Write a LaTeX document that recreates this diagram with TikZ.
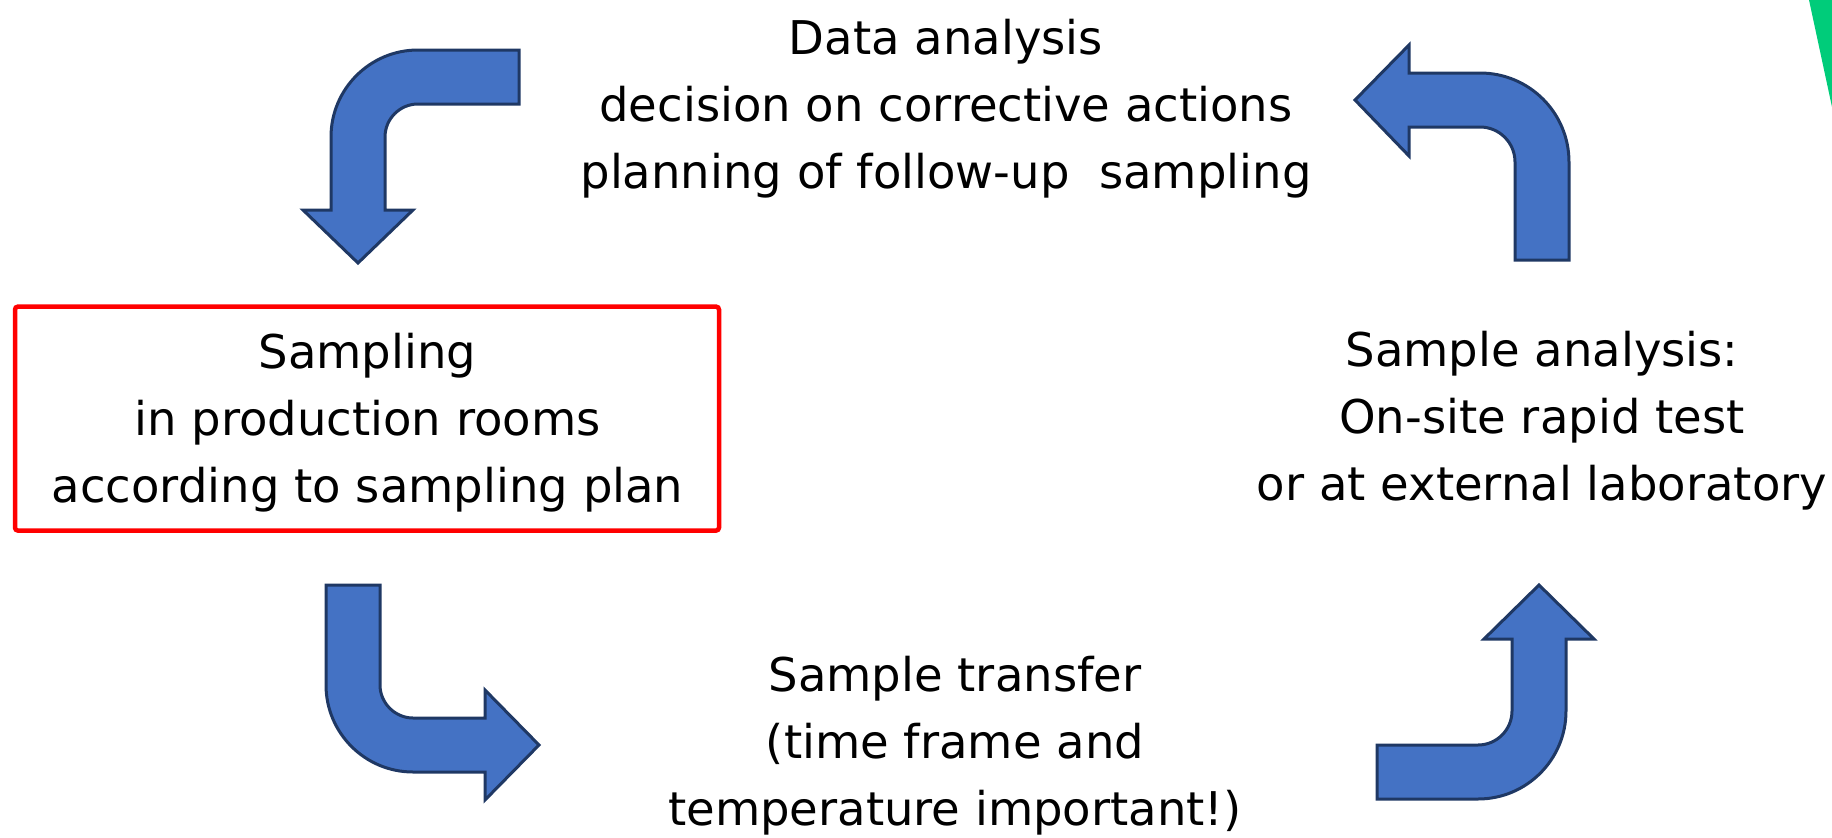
\documentclass[tikz,border=0pt]{standalone}
\usepackage{fontspec}
\setmainfont{DejaVu Sans}
\definecolor{arrowfill}{HTML}{4472C4}
\definecolor{arrowline}{HTML}{1F3864}
\definecolor{accentgreen}{RGB}{0,204,122}
\begin{document}
\begin{tikzpicture}[x=1pt,y=-1pt,
  bentarrow/.style={fill=arrowfill,draw=arrowline,line width=3pt,line join=miter},
  label/.style={align=center,anchor=base,inner sep=0pt,font=\fontsize{46.5}{66.8}\selectfont},
  redbox/.style={draw=red,line width=4.5pt,rounded corners=3pt,minimum width=704pt,minimum height=224pt,inner sep=0pt}]
\useasboundingbox (0,0) rectangle (1832,838);
% green accent
\fill[accentgreen] (1809,0) -- (1832,0) -- (1832,107) -- cycle;
% red box and texts (anchor = baseline of last line)
\node[redbox] (box) at (367,418.6) {};
\node[label] (sampling) at (367.5,502) {Sampling\\in production rooms\\according to sampling plan};
\node[label] (data) at (946,188.3) {Data analysis\\decision on corrective actions\\planning of follow-up\ \ sampling};
\node[label] (analysis) at (1542,500.5) {Sample analysis:\\On-site rapid test\\or at external laboratory};
\node[label] (transfer) at (955,825.4) {Sample transfer\\(time frame and\\temperature important!)};
% arrow 1: top-left, pointing down
\draw[bentarrow] (519,50) -- (418,50) .. controls (370,50) and (331,89) .. (331,137) -- (331,210) -- (303,210) -- (358,263) -- (413,210) -- (385,210) -- (385,137) .. controls (385,118.8) and (399.8,104) .. (418,104) -- (519,104) -- cycle;
% arrow 2: top-right, pointing left
\draw[bentarrow] (1515,260) -- (1515,162) .. controls (1515,142.7) and (1499.3,127) .. (1480,127) -- (1409,127) -- (1409,156) -- (1355,100) -- (1409,45) -- (1409,73) -- (1480,73) .. controls (1529.2,73) and (1569,112.8) .. (1569,162) -- (1569,260) -- cycle;
% arrow 3: bottom-left, pointing right
\draw[bentarrow] (326,585) -- (326,685) .. controls (326,733) and (365,772) .. (413,772) -- (485,772) -- (485,800) -- (539,745) -- (485,690) -- (485,718) -- (413,718) .. controls (395,718) and (380,703) .. (380,685) -- (380,585) -- cycle;
% arrow 4: bottom-right, pointing up
\draw[bentarrow] (1377,745) -- (1478,745) .. controls (1496.8,745) and (1512,729.8) .. (1512,711) -- (1512,639) -- (1484,639) -- (1539,585) -- (1594,639) -- (1566,639) -- (1566,711) .. controls (1566,759.6) and (1526.6,799) .. (1478,799) -- (1377,799) -- cycle;
\end{tikzpicture}
\end{document}
